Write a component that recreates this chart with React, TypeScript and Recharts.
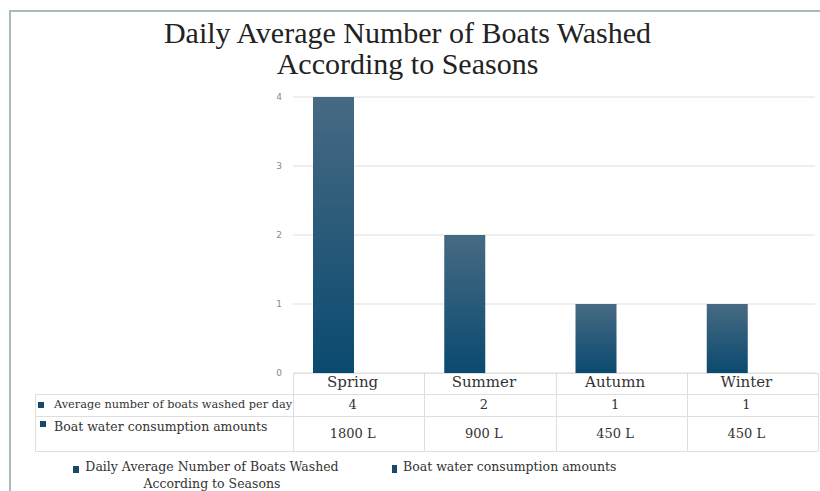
import React from "react"
import { BarChart, Bar, XAxis, YAxis, CartesianGrid } from "recharts"

const seasons = ["Spring", "Summer", "Autumn", "Winter"]
const boatsPerDay = [4, 2, 1, 1]
const waterLitres = [1800, 900, 450, 450]
const yTicks = [0, 1, 2, 3, 4]

const titleLines = ["Daily Average Number of Boats Washed", "According to Seasons"]
const rowLabels = ["Average number of boats washed per day", "Boat water consumption amounts"]
const legendLabels = ["Daily Average Number of Boats Washed According to Seasons", "Boat water consumption amounts"]

const chartData = seasons.map((season, i) => ({ season, boats: boatsPerDay[i] }))

const serif = "'DejaVu Serif', serif"
const lineColor = "#dedede"
const frameColor = "#a9baba"
const navy = "#1b4868"

// table geometry: label column, then one column per season under the plot
const plotLeft = 293
const plotRight = 818
const colW = (plotRight - plotLeft) / seasons.length
const tableLeft = 35
const rowTops = [373, 394, 416, 451]

function Marker({ x, y, w = 6, h = 6 }: { x: number; y: number; w?: number; h?: number }) {
    return <div style={{ position: "absolute", left: x, top: y, width: w, height: h, background: navy }} />
}

function DataTable() {
    const cells: React.ReactNode[] = []
    // horizontal rules
    cells.push(<div key="h0" style={{ position: "absolute", left: plotLeft, top: rowTops[0], width: plotRight - plotLeft, height: 1, background: lineColor }} />)
    for (let r = 1; r < rowTops.length; r++) {
        cells.push(<div key={`h${r}`} style={{ position: "absolute", left: tableLeft, top: rowTops[r], width: plotRight - tableLeft, height: 1, background: lineColor }} />)
    }
    // vertical rules
    cells.push(<div key="vl" style={{ position: "absolute", left: tableLeft, top: rowTops[1], width: 1, height: rowTops[3] - rowTops[1], background: lineColor }} />)
    for (let c = 0; c <= seasons.length; c++) {
        cells.push(<div key={`v${c}`} style={{ position: "absolute", left: plotLeft + c * colW, top: rowTops[0], width: 1, height: rowTops[3] - rowTops[0], background: lineColor }} />)
    }
    seasons.forEach((s, i) => {
        const left = plotLeft + i * colW - 6
        cells.push(
            <div key={`s${i}`} style={{ position: "absolute", left, top: rowTops[0] - 1, width: colW, height: rowTops[1] - rowTops[0], lineHeight: `${rowTops[1] - rowTops[0]}px`, textAlign: "center", fontSize: 15, color: "#333" }}>{s}</div>
        )
        cells.push(
            <div key={`b${i}`} style={{ position: "absolute", left, top: rowTops[1], width: colW, height: rowTops[2] - rowTops[1], lineHeight: `${rowTops[2] - rowTops[1]}px`, textAlign: "center", fontSize: 13, color: "#333" }}>{boatsPerDay[i]}</div>
        )
        cells.push(
            <div key={`w${i}`} style={{ position: "absolute", left, top: rowTops[2], width: colW, height: rowTops[3] - rowTops[2], lineHeight: `${rowTops[3] - rowTops[2]}px`, textAlign: "center", fontSize: 13, color: "#333" }}>{`${waterLitres[i]} L`}</div>
        )
    })
    cells.push(<Marker key="m0" x={38} y={402} />)
    cells.push(<div key="l0" style={{ position: "absolute", left: 54, top: rowTops[1], lineHeight: "22px", fontSize: 11.3, color: "#333", whiteSpace: "nowrap" }}>{rowLabels[0]}</div>)
    cells.push(<Marker key="m1" x={40} y={421} />)
    cells.push(<div key="l1" style={{ position: "absolute", left: 54, top: rowTops[2] + 2, lineHeight: "18px", fontSize: 12.5, color: "#333", whiteSpace: "nowrap" }}>{rowLabels[1]}</div>)
    return <>{cells}</>
}

export default function App() {
    return (
        <div style={{ position: "absolute", left: 0, top: 0, width: 820, height: 491, background: "#fff", overflow: "hidden", fontFamily: serif }}>
            {/* frame: top and left edges only */}
            <div style={{ position: "absolute", left: 9, top: 10, width: 811, height: 2, background: frameColor }} />
            <div style={{ position: "absolute", left: 9, top: 10, width: 2, height: 481, background: frameColor }} />

            <div style={{ position: "absolute", left: 0, top: 17, width: 815, textAlign: "center", fontFamily: "'Liberation Serif', serif", fontSize: 30, lineHeight: "31px", color: "#222" }}>
                {titleLines.map((t) => <div key={t}>{t}</div>)}
            </div>

            <div style={{ position: "absolute", left: 0, top: 0 }}>
                <BarChart width={820} height={491} data={chartData} margin={{ top: 97, right: 5, bottom: 118, left: 273 }}>
                    <defs>
                        <linearGradient id="barFill" x1="0" y1="0" x2="0" y2="1">
                            <stop offset="0%" stopColor="#476a83" />
                            <stop offset="100%" stopColor="#0a4a6f" />
                        </linearGradient>
                    </defs>
                    <CartesianGrid vertical={false} stroke={lineColor} />
                    <XAxis dataKey="season" hide padding={{ left: -25, right: 22 }} />
                    <YAxis width={20} domain={[0, 4]} ticks={yTicks} axisLine={false} tickLine={false} tickMargin={5} tick={{ fontSize: 9, fill: "#888", fontFamily: "'DejaVu Sans', sans-serif" }} />
                    <Bar dataKey="boats" fill="url(#barFill)" barSize={41} isAnimationActive={false} />
                </BarChart>
            </div>

            <DataTable />

            {/* legend */}
            <Marker x={73} y={466} w={6} h={7} />
            <div style={{ position: "absolute", left: 84, top: 458, width: 256, textAlign: "center", fontSize: 12.5, lineHeight: "17px", color: "#333" }}>
                {legendLabels[0]}
            </div>
            <Marker x={392} y={465} w={5} h={8} />
            <div style={{ position: "absolute", left: 403, top: 458, fontSize: 12.5, lineHeight: "17px", color: "#333", whiteSpace: "nowrap" }}>
                {legendLabels[1]}
            </div>
        </div>
    )
}
